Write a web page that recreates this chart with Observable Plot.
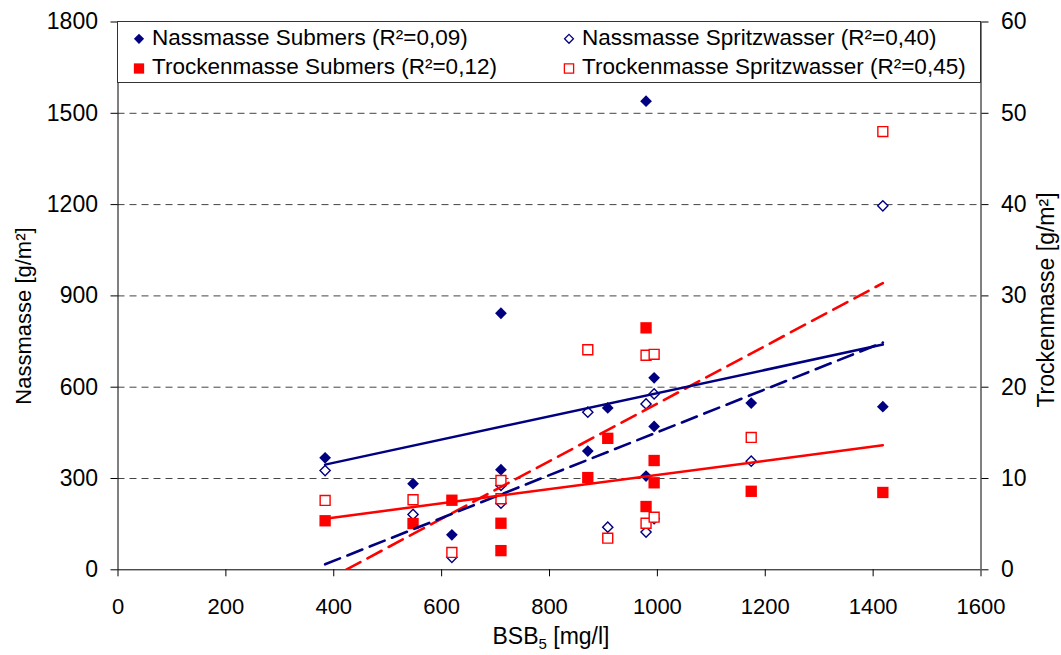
<!DOCTYPE html>
<html><head><meta charset="utf-8">
<script src="https://cdn.jsdelivr.net/npm/d3@7"></script>
<script src="https://cdn.jsdelivr.net/npm/@observablehq/plot@0.6"></script>
<style>
body{margin:0;background:#fff;}
#wrap{position:relative;width:1061px;height:655px;font-family:"Liberation Sans",Arial,sans-serif;}
#legend{position:absolute;left:117px;top:21px;}
</style></head>
<body><div id="wrap"></div>
<script>
// BSB5 [mg/l] per sample (same for all four series)
const bsb = [384, 547, 619, 710, 710, 871, 908, 979, 979, 994, 994, 1174, 1418];
// Nassmasse [g/m²]
const nassSubmers = [368, 283, 115, 843, 329, 390, 532, 1540, 308, 631, 471, 548, 536];
const nassSpritz  = [326, 182, 41, 277, 219, 518, 140, 545, 124, 578, 168, 357, 1196];
// Trockenmasse [g/m²]
const trockSubmers = [5.37, 5.07, 7.62, 5.1, 2.1, 10.1, 14.4, 26.5, 6.93, 11.97, 9.53, 8.6, 8.47];
const trockSpritz  = [7.6, 7.67, 1.9, 9.78, 7.78, 24.1, 3.46, 23.5, 5.1, 23.6, 5.76, 14.5, 48.0];

const xTicks = [0, 200, 400, 600, 800, 1000, 1200, 1400, 1600];
const yTicks = [0, 300, 600, 900, 1200, 1500, 1800];
const gridY = [300, 600, 900, 1200, 1500];
const ratio = 30; // right axis 0-60 vs left axis 0-1800

const seriesNames = ["Nassmasse Submers (R²=0,09)", "Nassmasse Spritzwasser (R²=0,40)",
                     "Trockenmasse Submers (R²=0,12)", "Trockenmasse Spritzwasser (R²=0,45)"];

const NAVY = "#000080", RED = "#ff0000";
const rows = (ys, k) => bsb.map((x, i) => ({x, y: ys[i] * k}));
const nS = rows(nassSubmers, 1), nW = rows(nassSpritz, 1);
const tS = rows(trockSubmers, ratio), tW = rows(trockSpritz, ratio);

const W = 1061, H = 655;
const chart = Plot.plot({
  width: W, height: H,
  marginLeft: 117.5, marginRight: 80.5, marginTop: 21.5, marginBottom: 85.7,
  style: {fontFamily: "Liberation Sans, Arial, sans-serif", background: "#fff"},
  x: {domain: [0, 1600]},
  y: {domain: [0, 1800]},
  marks: [
    Plot.ruleY(gridY, {stroke: "#444", strokeDasharray: "7,5", strokeWidth: 1}),
    Plot.axisX({ticks: xTicks, tickSize: 7, tickPadding: 22, fontSize: 22, label: null, tickFormat: d => String(d)}),
    Plot.axisY({ticks: yTicks, tickSize: 7, tickPadding: 13, fontSize: 23, label: null, tickFormat: d => String(d)}),
    Plot.axisY({ticks: yTicks, anchor: "right", tickSize: 7, tickPadding: 13, fontSize: 23, label: null, tickFormat: d => String(d / ratio)}),
    Plot.ruleX([0, 1600], {stroke: "#000", strokeWidth: 1}),
    Plot.ruleY([0], {stroke: "#000", strokeWidth: 1}),
    Plot.dot(nS, {x: "x", y: "y", symbol: "diamond2", r: 5.3, fill: NAVY, stroke: "none"}),
    Plot.dot(nW, {x: "x", y: "y", symbol: "diamond2", r: 4.6, fill: "white", stroke: NAVY, strokeWidth: 1.4}),
    Plot.dot(tS, {x: "x", y: "y", symbol: "square", r: 6.4, fill: RED, stroke: "none"}),
    Plot.dot(tW, {x: "x", y: "y", symbol: "square", r: 5.6, fill: "white", stroke: RED, strokeWidth: 1.4}),
    Plot.linearRegressionY(tW, {x: "x", y: "y", ci: 0, stroke: RED, strokeWidth: 2.6, strokeDasharray: "16,8", clip: true}),
    Plot.linearRegressionY(nW, {x: "x", y: "y", ci: 0, stroke: NAVY, strokeWidth: 2.6, strokeDasharray: "16,8", clip: true}),
    Plot.linearRegressionY(tS, {x: "x", y: "y", ci: 0, stroke: RED, strokeWidth: 2.5, clip: true}),
    Plot.linearRegressionY(nS, {x: "x", y: "y", ci: 0, stroke: NAVY, strokeWidth: 2.5, clip: true})
  ]
});

const svg = d3.select(chart);
// axis titles
const xt = svg.append("text").attr("x", 551).attr("y", 644).attr("text-anchor", "middle")
  .attr("font-size", 23).attr("fill", "#000");
xt.append("tspan").text("BSB");
xt.append("tspan").attr("font-size", 15).attr("dy", 5).text("5");
xt.append("tspan").attr("dy", -5).text(" [mg/l]");
svg.append("text").attr("transform", "translate(31,316) rotate(-90)").attr("text-anchor", "middle")
  .attr("font-size", 22).attr("fill", "#000").text("Nassmasse [g/m²]");
svg.append("text").attr("transform", "translate(1054,300) rotate(-90)").attr("text-anchor", "middle")
  .attr("font-size", 23).attr("fill", "#000").text("Trockenmasse [g/m²]");

const wrap = document.getElementById("wrap");
wrap.appendChild(chart);

// legend box inside the plot area
const leg = d3.select(wrap).append("svg").attr("id", "legend").attr("width", 866).attr("height", 64);
leg.append("rect").attr("x", 0.5).attr("y", 0.5).attr("width", 863).attr("height", 61)
  .attr("fill", "#fff").attr("stroke", "#333").attr("stroke-width", 1);
const legItems = [
  {name: seriesNames[0], cx: 22, cy: 17.8, sym: d3.symbolDiamond2, size: Math.PI * 4.6 * 4.6, fill: NAVY, stroke: "none"},
  {name: seriesNames[1], cx: 452, cy: 17.8, sym: d3.symbolDiamond2, size: Math.PI * 4.0 * 4.0, fill: "white", stroke: NAVY},
  {name: seriesNames[2], cx: 22, cy: 47.5, sym: d3.symbolSquare, size: Math.PI * 5.8 * 5.8, fill: RED, stroke: "none"},
  {name: seriesNames[3], cx: 452, cy: 47.5, sym: d3.symbolSquare, size: Math.PI * 5.2 * 5.2, fill: "white", stroke: RED}
];
for (const it of legItems) {
  leg.append("path").attr("d", d3.symbol(it.sym, it.size)())
    .attr("transform", `translate(${it.cx},${it.cy})`)
    .attr("fill", it.fill).attr("stroke", it.stroke).attr("stroke-width", 1.3);
  leg.append("text").attr("x", it.cx + 13).attr("y", it.cy + 5.8)
    .attr("font-size", 22.5).attr("font-family", "Liberation Sans, Arial, sans-serif").attr("fill", "#000").text(it.name);
}
</script>
</body></html>
